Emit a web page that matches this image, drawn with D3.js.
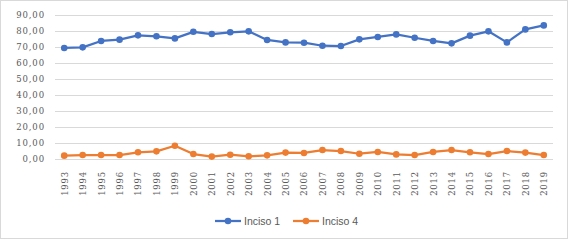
<!DOCTYPE html>
<html><head><meta charset="utf-8">
<script src="https://cdn.jsdelivr.net/npm/d3@7"></script>
<style>body{margin:0;background:#fff}svg{display:block}</style>
</head><body>
<svg id="c" width="569" height="241"></svg>
<script>
const years = ["1993","1994","1995","1996","1997","1998","1999","2000","2001","2002","2003","2004","2005","2006","2007","2008","2009","2010","2011","2012","2013","2014","2015","2016","2017","2018","2019"];
const inciso1 = [69.2,69.6,73.6,74.4,77.1,76.5,75.2,79.3,77.9,79.0,79.6,74.2,72.7,72.5,70.6,70.4,74.6,76.1,77.7,75.6,73.6,72.1,76.9,79.6,72.7,80.8,83.3];
const inciso4 = [1.9,2.3,2.3,2.3,4.0,4.6,8.1,2.9,1.3,2.5,1.5,2.1,3.8,3.6,5.4,4.8,3.1,4.2,2.7,2.3,4.2,5.4,4.0,2.9,4.8,3.8,2.3];
const yTicks = [0,10,20,30,40,50,60,70,80,90];
const seriesNames = ["Inciso 1","Inciso 4"];
const colors = ["#4472C4","#ED7D31"];

const svg = d3.select("#c");
svg.append("rect").attr("x",0.5).attr("y",0.5).attr("width",567).attr("height",238)
  .attr("fill","#fff").attr("stroke","#d9d9d9");

const x = d3.scalePoint().domain(years).range([55,553]).padding(0.5);
const y = d3.scaleLinear().domain([0,90]).range([158.7,14.7]);

const g = svg.append("g");
g.selectAll("line.grid").data(yTicks).join("line")
  .attr("x1",55).attr("x2",553)
  .attr("y1",d=>Math.round(y(d))+0.5).attr("y2",d=>Math.round(y(d))+0.5)
  .attr("stroke","#d9d9d9").attr("stroke-width",1);

const tickFont = "DejaVu Serif, serif";
const fmt = d => d.toFixed(2).replace(".",",");
const yAxis = d3.axisLeft(y).tickValues(yTicks).tickFormat(fmt).tickSize(0).tickPadding(0);
const ya = svg.append("g").attr("transform","translate(45,0)").call(yAxis);
ya.select(".domain").remove();
ya.attr("font-family",tickFont).attr("font-size",8.5);
ya.selectAll("text").attr("fill","#595959").attr("letter-spacing","0.9px");

const xAxis = d3.axisBottom(x).tickSize(0).tickPadding(0);
const xa = svg.append("g").attr("transform","translate(0,171)").call(xAxis);
xa.select(".domain").remove();
xa.attr("font-family",tickFont).attr("font-size",8.5);
xa.selectAll(".tick text").attr("fill","#595959").attr("letter-spacing","0.8px")
  .attr("x",0).attr("y",0).attr("dy","0.35em")
  .attr("text-anchor","end").attr("transform","rotate(-90)");

const data = [inciso1, inciso4];
const line = d3.line().x((d,i)=>x(years[i])).y(d=>y(d));
data.forEach((s,k)=>{
  svg.append("path").datum(s).attr("d",line).attr("fill","none")
    .attr("stroke",colors[k]).attr("stroke-width",2.25).attr("stroke-linejoin","round");
  svg.append("g").selectAll("circle").data(s).join("circle")
    .attr("cx",(d,i)=>x(years[i])).attr("cy",d=>y(d)).attr("r",3.3).attr("fill",colors[k]);
});

const leg = [{x0:215,tx:244},{x0:293,tx:322}];
seriesNames.forEach((n,k)=>{
  const lg = svg.append("g");
  lg.append("line").attr("x1",leg[k].x0).attr("x2",leg[k].x0+26).attr("y1",221).attr("y2",221)
    .attr("stroke",colors[k]).attr("stroke-width",2.25);
  lg.append("circle").attr("cx",leg[k].x0+13).attr("cy",221).attr("r",3.3).attr("fill",colors[k]);
  lg.append("text").attr("x",leg[k].tx).attr("y",221).attr("dy","0.35em")
    .attr("font-family","Liberation Sans Narrow, Liberation Sans, sans-serif").attr("font-size",10.5).attr("fill","#595959").text(n);
});
</script>
</body></html>
